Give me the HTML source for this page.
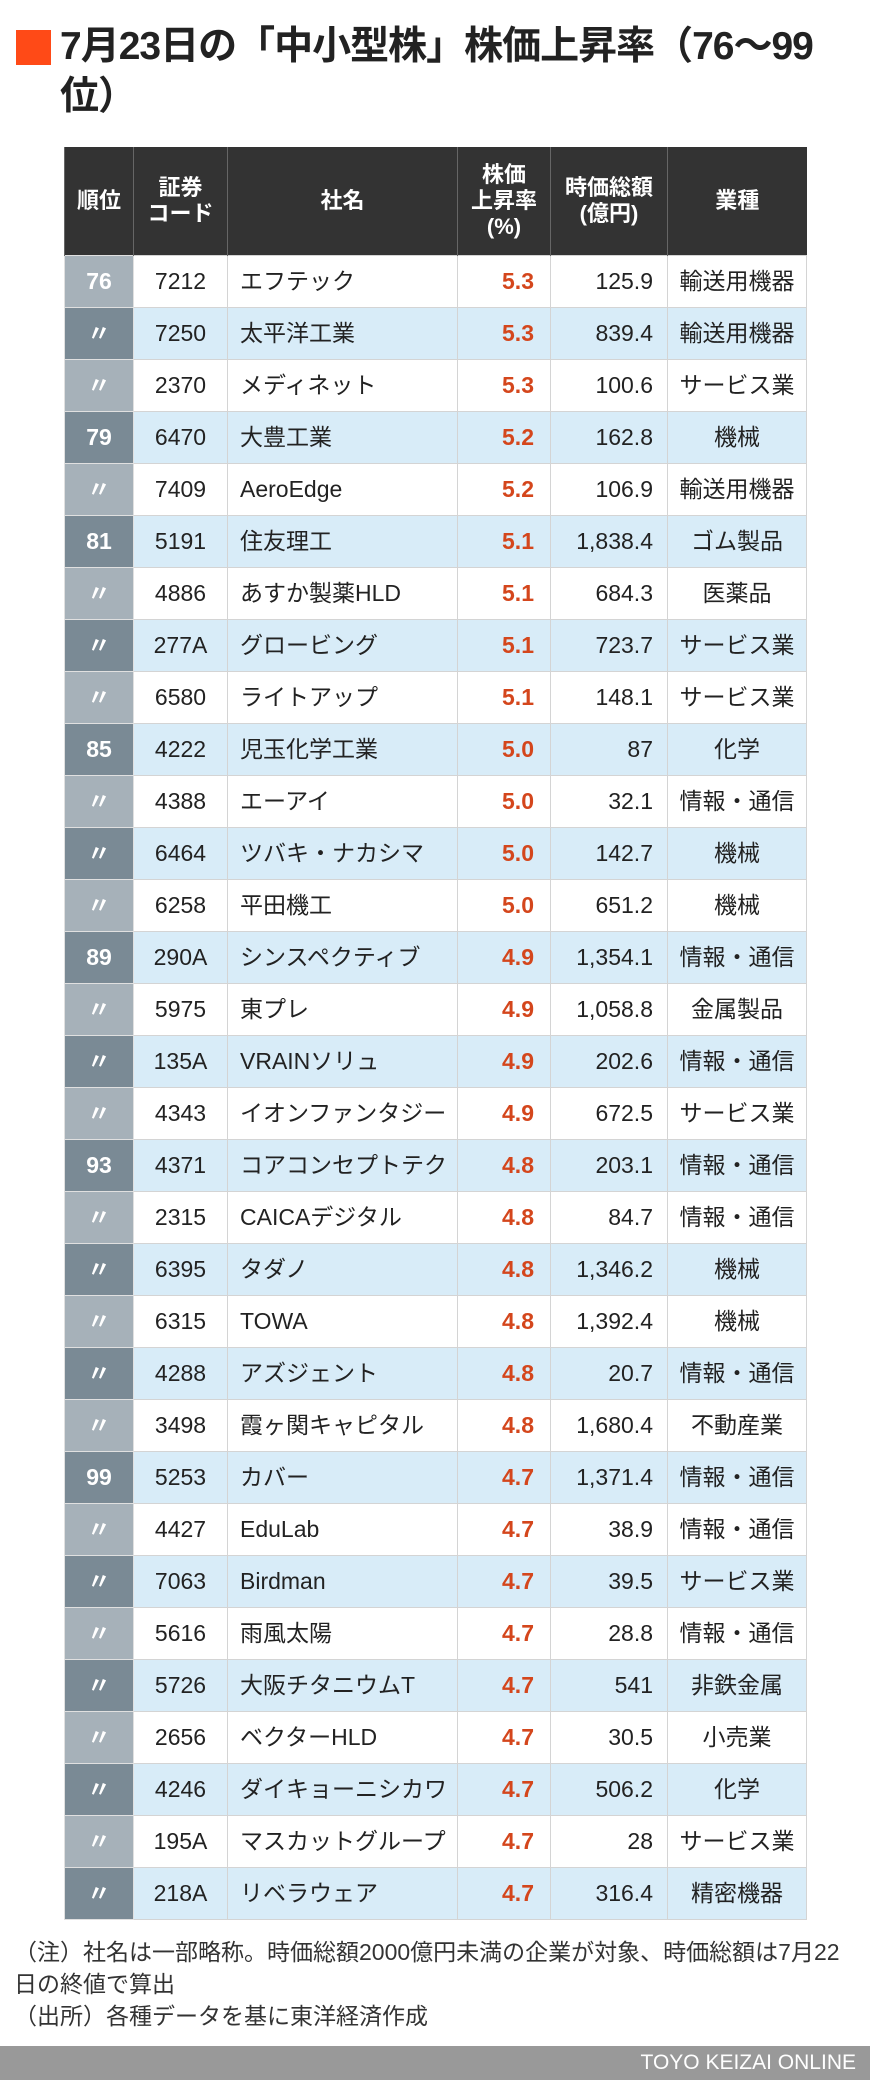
<!DOCTYPE html>
<html><head><meta charset="utf-8">
<style>
html,body{margin:0;padding:0;background:#fff;}
body{width:870px;height:2080px;position:relative;overflow:hidden;font-family:"Liberation Sans","Noto Sans CJK JP",sans-serif;color:#222;}
#title-mark{position:absolute;left:16px;top:30px;width:35px;height:35px;background:#ff4a17;}
#title{position:absolute;left:60px;top:22px;width:810px;font-size:39px;font-weight:bold;line-height:50px;color:#222;letter-spacing:-1px;}
table{position:absolute;left:64px;top:147px;border-collapse:collapse;table-layout:fixed;width:742px;}
th{background:#333;color:#fff;font-size:22px;font-weight:bold;line-height:26px;height:108px;border-left:1px solid #666;padding:0;}
td{height:51px;border:1px solid #d4d4d4;font-size:23px;line-height:1;padding:0;white-space:nowrap;overflow:hidden;vertical-align:middle;}
td.rank{color:#fff;font-weight:bold;text-align:center;border-color:#e0e0e0;}
td.code{text-align:center;}
td.name{padding-left:12px;}
td.pct{text-align:right;padding-right:16px;color:#d4461c;font-weight:bold;}
td.cap{text-align:right;padding-right:14px;}
td.ind{text-align:center;}
tr.w td{background:#fff;}
tr.b td{background:#d8ecf8;}
tr.w td.rank{background:#a6b1b9;}
tr.b td.rank{background:#7a8a95;}
#notes{position:absolute;left:14px;top:1936px;width:860px;font-size:23px;line-height:32px;color:#333;white-space:nowrap;}
#footer{position:absolute;left:0;top:2046px;width:870px;height:34px;background:#999;color:#fff;font-size:21px;line-height:34px;text-align:right;box-sizing:border-box;padding-right:14px;}
</style></head>
<body>
<div id="title-mark"></div>
<div id="title">7月23日の「中小型株」株価上昇率（76〜99<br>位）</div>
<table id="tbl">
<colgroup><col style="width:69px"><col style="width:94px"><col style="width:230px"><col style="width:93px"><col style="width:117px"><col style="width:139px"></colgroup>
<thead><tr>
<th>順位</th>
<th>証券<br>コード</th>
<th>社名</th>
<th>株価<br>上昇率<br>(%)</th>
<th>時価総額<br>(億円)</th>
<th>業種</th>
</tr></thead>
<tbody id="tb"></tbody>
</table>
<div id="notes">（注）社名は一部略称。時価総額2000億円未満の企業が対象、時価総額は7月22<br>日の終値で算出<br>（出所）各種データを基に東洋経済作成</div>
<div id="footer">TOYO KEIZAI ONLINE</div>
<script>
const ranks=["76","〃","〃","79","〃","81","〃","〃","〃","85","〃","〃","〃","89","〃","〃","〃","93","〃","〃","〃","〃","〃","99","〃","〃","〃","〃","〃","〃","〃","〃"];
const codes=["7212","7250","2370","6470","7409","5191","4886","277A","6580","4222","4388","6464","6258","290A","5975","135A","4343","4371","2315","6395","6315","4288","3498","5253","4427","7063","5616","5726","2656","4246","195A","218A"];
const names=["エフテック","太平洋工業","メディネット","大豊工業","AeroEdge","住友理工","あすか製薬HLD","グロービング","ライトアップ","児玉化学工業","エーアイ","ツバキ・ナカシマ","平田機工","シンスペクティブ","東プレ","VRAINソリュ","イオンファンタジー","コアコンセプトテク","CAICAデジタル","タダノ","TOWA","アズジェント","霞ヶ関キャピタル","カバー","EduLab","Birdman","雨風太陽","大阪チタニウムT","ベクターHLD","ダイキョーニシカワ","マスカットグループ","リベラウェア"];
const rises=["5.3","5.3","5.3","5.2","5.2","5.1","5.1","5.1","5.1","5.0","5.0","5.0","5.0","4.9","4.9","4.9","4.9","4.8","4.8","4.8","4.8","4.8","4.8","4.7","4.7","4.7","4.7","4.7","4.7","4.7","4.7","4.7"];
const caps=["125.9","839.4","100.6","162.8","106.9","1,838.4","684.3","723.7","148.1","87","32.1","142.7","651.2","1,354.1","1,058.8","202.6","672.5","203.1","84.7","1,346.2","1,392.4","20.7","1,680.4","1,371.4","38.9","39.5","28.8","541","30.5","506.2","28","316.4"];
const inds=["輸送用機器","輸送用機器","サービス業","機械","輸送用機器","ゴム製品","医薬品","サービス業","サービス業","化学","情報・通信","機械","機械","情報・通信","金属製品","情報・通信","サービス業","情報・通信","情報・通信","機械","機械","情報・通信","不動産業","情報・通信","情報・通信","サービス業","情報・通信","非鉄金属","小売業","化学","サービス業","精密機器"];
const tb=document.getElementById('tb');
for(let i=0;i<codes.length;i++){
  const tr=document.createElement('tr');
  tr.className=i%2?'b':'w';
  
  
  const vals=[ranks[i],codes[i],names[i],rises[i],caps[i],inds[i]];
  const cls=['rank','code','name','pct','cap','ind'];
  for(let j=0;j<6;j++){
    const td=document.createElement('td');
    td.className=cls[j];
    td.textContent=vals[j];
    
    
    tr.appendChild(td);
  }
  tb.appendChild(tr);
}
</script>
</body></html>
